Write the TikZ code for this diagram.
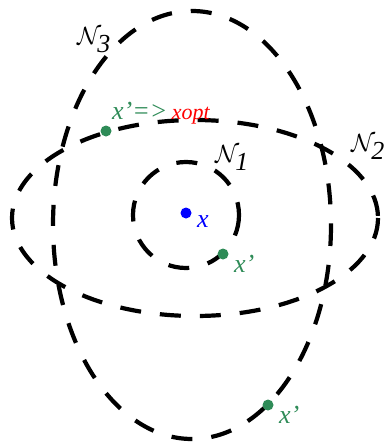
\documentclass[tikz,border=0pt]{standalone}
\usepackage{fontspec}
\setmainfont{Liberation Serif}
\usetikzlibrary{calc}
\definecolor{ptgreen}{RGB}{46,139,87}

\begin{document}
\begin{tikzpicture}[x=1pt,y=-1pt,inner sep=0pt,
  hood/.style={line width=4.2pt,dash pattern=on 21pt off 19pt},
  pt/.style={circle,minimum size=11pt},
  lbl/.style={font=\fontsize{26}{30}\selectfont}]
\useasboundingbox (0,0) rectangle (383,444);
\def\ra{53}

% neighbourhoods
\draw[hood] (186,215) circle [radius=\ra];
\draw[hood] (195,218) ellipse [x radius=183,y radius=98];
\draw[hood] (192,225) ellipse [x radius=139,y radius=214];

% points
\node[pt,fill=blue] (x) at (186,213) {};
\node[pt,fill=ptgreen] (p1) at (223,254) {};
\node[pt,fill=ptgreen] (p2) at (106,131) {};
\node[pt,fill=ptgreen] (p3) at (268,405) {};

\node[anchor=base west,text=blue,lbl] (xl) at ($(x) + (11,14)$) {\textit{x}};
\node[anchor=base west,text=ptgreen,lbl] (p1l) at ($(p1) + (11,18)$) {\textit{x’}};
\node[anchor=base west,text=ptgreen,lbl] (p3l) at ($(p3) + (11,18)$) {\textit{x’}};
\node[anchor=base west,lbl] (p2l) at ($(p2) + (6,-12)$)
  {\textcolor{ptgreen}{\textit{x’=>}}\,\textcolor{red}{\fontsize{22}{26}\selectfont\textit{xopt}}};

\node[lbl] (n1) at (232,158) {$\mathcal{N}_{\textit{1}}$};
\node[lbl] (n2) at (368,147) {$\mathcal{N}_{\textit{2}}$};
\node[lbl] (n3) at (94,40) {$\mathcal{N}_{\textit{3}}$};
\end{tikzpicture}
\end{document}
